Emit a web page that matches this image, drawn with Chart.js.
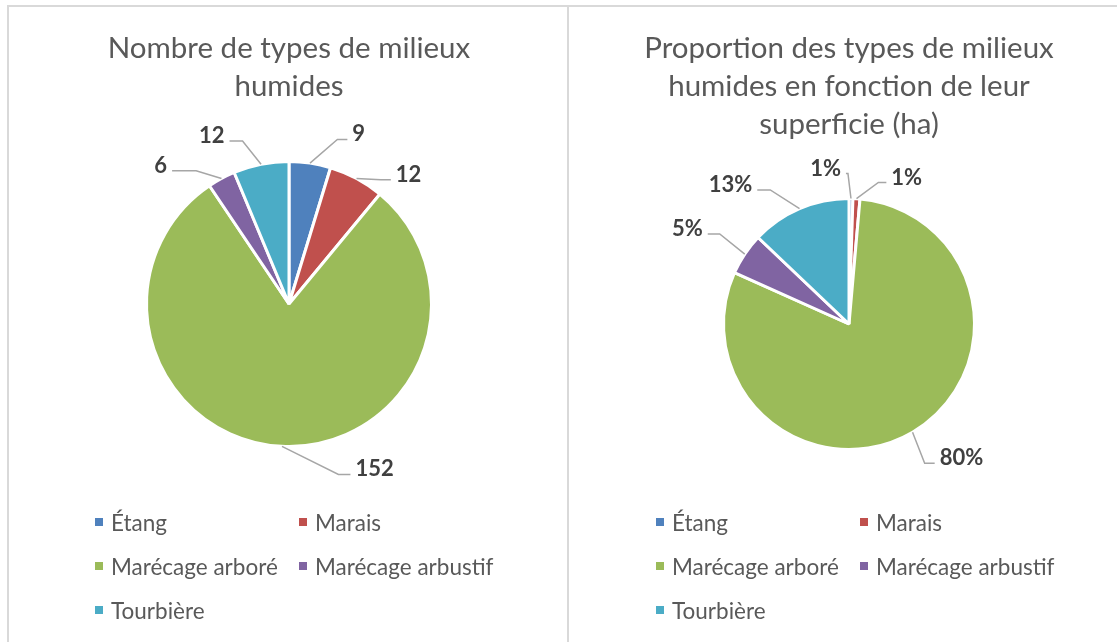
<!DOCTYPE html>
<html>
<head>
<meta charset="utf-8">
<script src="https://cdn.jsdelivr.net/npm/chart.js@4.4.0/dist/chart.umd.min.js"></script>
<style>
  body { margin: 0; background: #fff; width: 1117px; height: 642px; overflow: hidden; position: relative; font-family: Lato, "Open Sans", sans-serif; }
  .line { position: absolute; background: #d9d9d9; }
  .box { position: absolute; top: 6px; width: 560px; height: 500px; }
  .legend { position: absolute; top: 500px; display: grid; grid-template-columns: 204px 204px; grid-auto-rows: 44px; color: #595959; font-size: 22.5px; }
  .legend div { display: flex; align-items: center; white-space: nowrap; }
  .legend span.mk { width: 8px; height: 8px; margin-right: 8px; display: inline-block; }
</style>
</head>
<body>
<div class="line" style="left:7px;top:5px;width:1110px;height:2px"></div>
<div class="line" style="left:7px;top:5px;width:2px;height:637px"></div>
<div class="line" style="left:567px;top:5px;width:2px;height:637px"></div>

<div class="box" style="left:8px"><canvas id="nombre" width="560" height="500"></canvas></div>
<div class="legend" id="legNombre" style="left:95px"></div>

<div class="box" style="left:568px"><canvas id="superficie" width="560" height="500"></canvas></div>
<div class="legend" id="legSuperficie" style="left:656px"></div>

<script>
// donnees
const types = ['Étang', 'Marais', 'Marécage arboré', 'Marécage arbustif', 'Tourbière'];
const nombres = [9, 12, 152, 6, 12];
const superficiePct = [0.5, 0.9, 80.3, 5.4, 12.9];
const couleurs = ['#4F81BD', '#C0504D', '#9BBB59', '#8064A2', '#4BACC6'];

// etiquettes avec lignes de repere (style Excel)
const leaderLabels = {
  id: 'leaderLabels',
  afterDatasetsDraw(chart, args, opts) {
    const ctx = chart.ctx;
    const meta = chart.getDatasetMeta(0);
    const values = chart.data.datasets[0].data;
    ctx.save();
    meta.data.forEach((arc, i) => {
      const p = arc.getProps(['x', 'y', 'startAngle', 'endAngle', 'outerRadius'], true);
      const mid = (p.startAngle + p.endAngle) / 2;
      const a = mid + opts.shift[i] * Math.PI / 180;
      const r2 = p.outerRadius + opts.dist[i];
      const x0 = p.x + Math.cos(mid) * p.outerRadius;
      const y0 = p.y + Math.sin(mid) * p.outerRadius;
      const x1 = p.x + Math.cos(a) * r2;
      const y1 = p.y + Math.sin(a) * r2;
      const side = x1 >= p.x ? 1 : -1;
      const x2 = x1 + side * opts.tail[i];

      ctx.strokeStyle = '#a6a6a6';
      ctx.lineWidth = 1.5;
      ctx.beginPath();
      ctx.moveTo(x0, y0);
      ctx.lineTo(x1, y1);
      ctx.lineTo(x2, y1);
      ctx.stroke();

      ctx.fillStyle = '#404040';
      ctx.font = 'bold 22px Lato';
      ctx.textBaseline = 'alphabetic';
      ctx.textAlign = side > 0 ? 'left' : 'right';
      ctx.fillText(opts.format(values[i]), x2 + side * 5, y1 + 2);
    });
    ctx.restore();
  }
};

function makePie(id, titre, valeurs, pad, labelOpts) {
  return new Chart(document.getElementById(id), {
    type: 'pie',
    data: {
      labels: types,
      datasets: [{
        data: valeurs,
        backgroundColor: couleurs,
        borderColor: '#ffffff',
        borderWidth: 3
      }]
    },
    options: {
      responsive: false,
      animation: false,
      layout: { padding: { left: 2, bottom: pad.bottom } },
      plugins: {
        legend: { display: false },
        tooltip: { enabled: false },
        title: {
          display: true,
          text: titre,
          color: '#595959',
          font: { family: 'Lato', size: 29.5, weight: 'normal', lineHeight: '38px' },
          padding: { top: 23, bottom: pad.title }
        },
        leaderLabels: labelOpts
      }
    },
    plugins: [leaderLabels]
  });
}

function htmlLegend(chart, id) {
  const cont = document.getElementById(id);
  const items = chart.options.plugins.legend.labels.generateLabels(chart);
  items.forEach(item => {
    const d = document.createElement('div');
    d.innerHTML = `<span class="mk" style="background:${item.fillStyle}"></span>${item.text}`;
    cont.appendChild(d);
  });
}

const c1 = makePie('nombre', ['Nombre de types de milieux', 'humides'], nombres,
  { title: 55, bottom: 58 },
  {
    shift: [7.9, 8.2, -19, -6.6, -4.6],
    dist: [29, 12, 35, 20, 27],
    tail: [10, 10, 12, 24, 13],
    format: v => String(v)
  });
htmlLegend(c1, 'legNombre');

const c2 = makePie('superficie', ['Proportion des types de milieux', 'humides en fonction de leur', 'superficie (ha)'], superficiePct,
  { title: 54, bottom: 55 },
  {
    shift: [-1.3, 8.3, 1.9, 1.0, -7.2],
    dist: [25, 19, 33, 32, 30],
    tail: [2, 8, 10, 12, 13],
    format: v => Math.round(v) + '%'
  });
htmlLegend(c2, 'legSuperficie');
</script>
</body>
</html>
